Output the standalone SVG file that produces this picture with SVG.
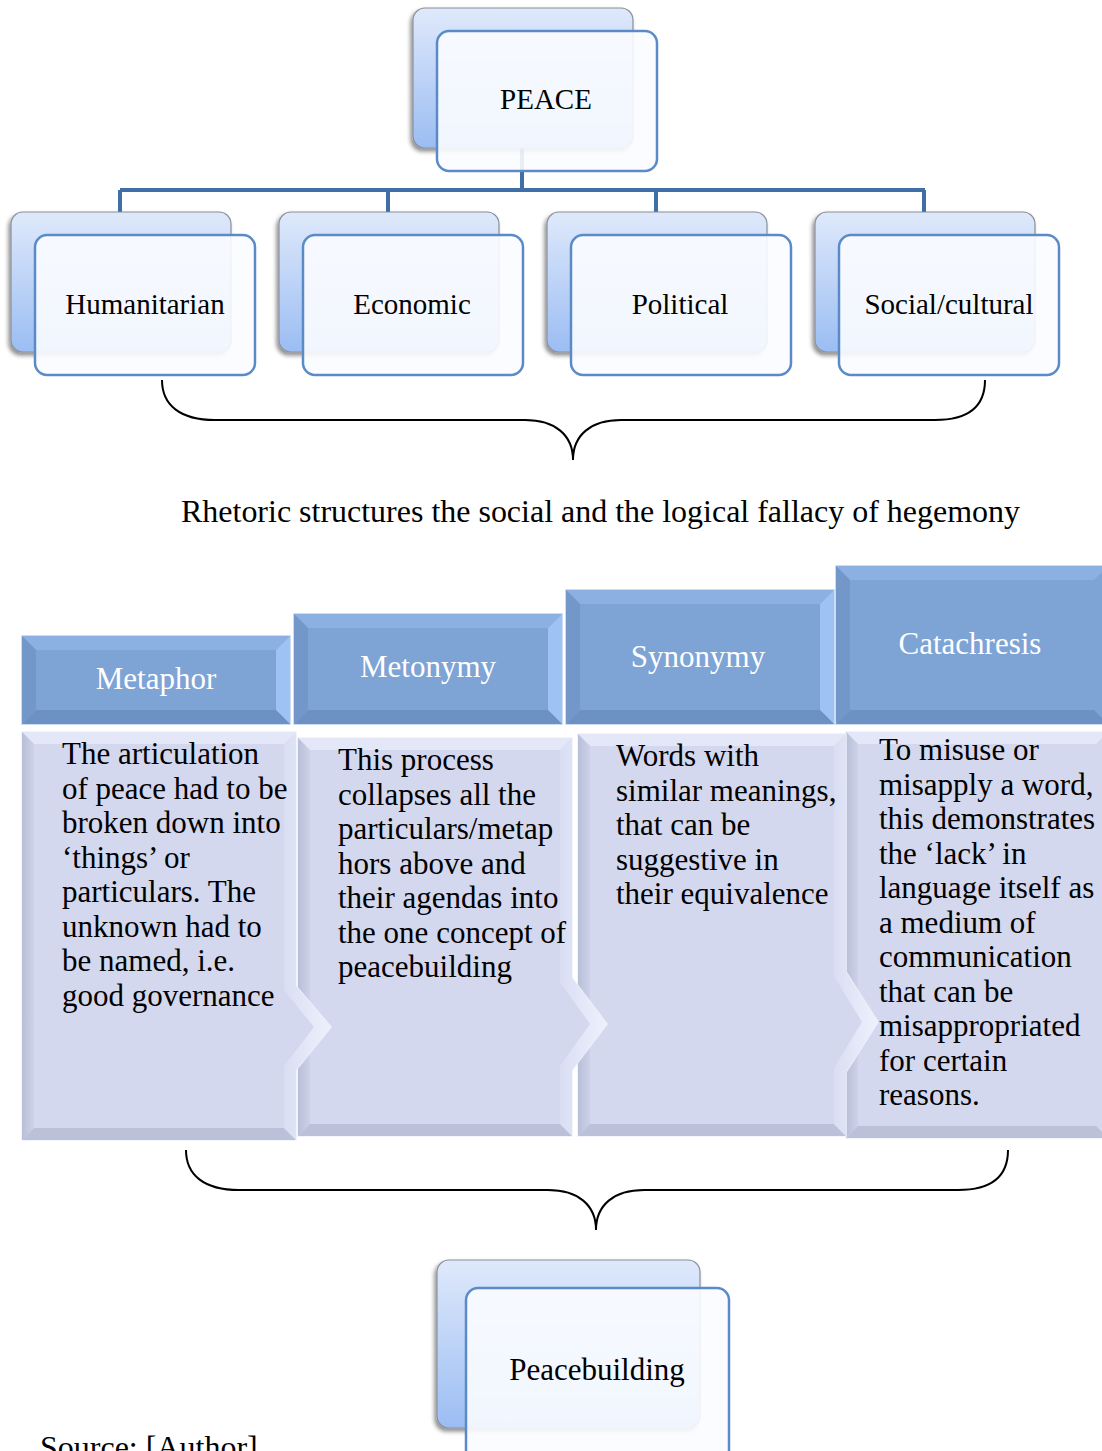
<svg xmlns="http://www.w3.org/2000/svg" width="1102" height="1451" viewBox="0 0 1102 1451">
<defs>
  <linearGradient id="backGrad" x1="0" y1="0" x2="0" y2="1">
    <stop offset="0" stop-color="#dfe9fb"/>
    <stop offset="1" stop-color="#9bbdf3"/>
  </linearGradient>
  <linearGradient id="rightStrip" x1="0" y1="0" x2="1" y2="0">
    <stop offset="0" stop-color="#d9def3"/>
    <stop offset="1" stop-color="#eef1fc"/>
  </linearGradient>
  <linearGradient id="leftStrip" x1="0" y1="0" x2="1" y2="0">
    <stop offset="0" stop-color="#b9bfd8"/>
    <stop offset="1" stop-color="#cdd2ea"/>
  </linearGradient>
  <filter id="shadow" x="-10%" y="-10%" width="120%" height="130%">
    <feDropShadow dx="-2" dy="3" stdDeviation="2" flood-color="#000" flood-opacity="0.45"/>
  </filter>
</defs>
<style>
  .back { fill: url(#backGrad); stroke: #8a8f99; stroke-width: 1.2; filter: url(#shadow); }
  .front { fill: #fbfcff; fill-opacity: 0.9; stroke: #5b8bc6; stroke-width: 2.5; }
  .lbl { font-family: "Liberation Serif", "Times New Roman", serif; font-size: 29px; fill: #000; text-anchor: middle; }
  .conn { stroke: #3f6fa6; stroke-width: 4; fill: none; }
  .brace { stroke: #000; stroke-width: 2; fill: none; }
  .cap { font-family: "Liberation Serif", "Times New Roman", serif; font-size: 32px; fill: #000; }
  .hfill { fill: #7ea3d5; stroke: #b9d2f2; stroke-width: 1.5; }
  .htop { fill: #8cb0e2; }
  .hleft { fill: #7397c9; }
  .hright { fill: #9ec2f2; }
  .hbot { fill: #6d91c3; }
  .htxt { font-family: "Liberation Serif", "Times New Roman", serif; font-size: 31px; fill: #fff; text-anchor: middle; }
  .bfill { fill: #d4d8ee; stroke: #eef1fb; stroke-width: 1.5; }
  .btop { fill: #e3e7f7; }
  .bleft { fill: url(#leftStrip); }
  .bright { fill: url(#rightStrip); }
  .bbot { fill: #bcc1da; }
  .btxt { font-family: "Liberation Serif", "Times New Roman", serif; font-size: 31px; fill: #000; }
</style>

<g id="connectors">
  <path class="conn" d="M522,148 V190 M120,190 H925 M120,190 V212 M388,190 V212 M656,190 V212 M924,190 V212"/>
  <path class="brace" d="M162,380 C162,405 180,420 215,420 L525,420 C555,420 573,435 573,460 C573,435 591,420 621,420 L935,420 C970,420 985,405 985,380"/>
  <path class="brace" d="M186,1150 C186,1175 204,1190 239,1190 L548,1190 C578,1190 596,1205 596,1230 C596,1205 614,1190 644,1190 L958,1190 C993,1190 1008,1175 1008,1150"/>
</g>

<g id="node-peace">
  <rect class="back" x="413" y="8" width="220" height="140" rx="12"/>
  <rect class="front" x="437" y="31" width="220" height="140" rx="12"/>
  <text class="lbl" x="546" y="109">PEACE</text>
</g>

<g id="node-humanitarian">
  <rect class="back" x="11" y="212" width="220" height="140" rx="12"/>
  <rect class="front" x="35" y="235" width="220" height="140" rx="12"/>
  <text class="lbl" x="145" y="314">Humanitarian</text>
</g>
<g id="node-economic">
  <rect class="back" x="279" y="212" width="220" height="140" rx="12"/>
  <rect class="front" x="303" y="235" width="220" height="140" rx="12"/>
  <text class="lbl" x="412" y="314">Economic</text>
</g>
<g id="node-political">
  <rect class="back" x="547" y="212" width="220" height="140" rx="12"/>
  <rect class="front" x="571" y="235" width="220" height="140" rx="12"/>
  <text class="lbl" x="680" y="314">Political</text>
</g>
<g id="node-social">
  <rect class="back" x="815" y="212" width="220" height="140" rx="12"/>
  <rect class="front" x="839" y="235" width="220" height="140" rx="12"/>
  <text class="lbl" x="949" y="314">Social/cultural</text>
</g>

<text id="caption" class="cap" x="181" y="522" textLength="839" lengthAdjust="spacingAndGlyphs">Rhetoric structures the social and the logical fallacy of hegemony</text>

<!-- Column 4: Catachresis -->
<g id="node-catachresis">
  <rect class="hfill" x="836" y="566" width="272" height="158"/>
  <polygon class="htop" points="836,566 1108,566 1094,580 850,580"/>
  <polygon class="hleft" points="836,566 850,580 850,710 836,724"/>
  <polygon class="hbot" points="836,724 850,710 1094,710 1108,724"/>
  <text class="htxt" x="970" y="654">Catachresis</text>
  <rect class="bfill" x="846" y="732" width="262" height="406"/>
  <polygon class="btop" points="846,732 1108,732 1096,744 858,744"/>
  <polygon class="bleft" points="846,732 858,744 858,1126 846,1138"/>
  <polygon class="bbot" points="846,1138 858,1126 1096,1126 1108,1138"/>
  <text class="btxt">
    <tspan x="879" y="760">To misuse or</tspan>
    <tspan x="879" y="794.5">misapply a word,</tspan>
    <tspan x="879" y="829">this demonstrates</tspan>
    <tspan x="879" y="863.5">the ‘lack’ in</tspan>
    <tspan x="879" y="898">language itself as</tspan>
    <tspan x="879" y="932.5">a medium of</tspan>
    <tspan x="879" y="967">communication</tspan>
    <tspan x="879" y="1001.5">that can be</tspan>
    <tspan x="879" y="1036">misappropriated</tspan>
    <tspan x="879" y="1070.5">for certain</tspan>
    <tspan x="879" y="1105">reasons.</tspan>
  </text>
</g>

<!-- Column 3: Synonymy -->
<g id="node-synonymy">
  <rect class="hfill" x="566" y="590" width="268" height="134"/>
  <polygon class="htop" points="566,590 834,590 820,604 580,604"/>
  <polygon class="hleft" points="566,590 580,604 580,710 566,724"/>
  <polygon class="hright" points="834,590 834,724 820,710 820,604"/>
  <polygon class="hbot" points="566,724 580,710 820,710 834,724"/>
  <text class="htxt" x="698" y="667">Synonymy</text>
  <path class="bfill" d="M578,734 H846 V972 L878,1022 L846,1072 V1136 H578 Z"/>
  <polygon class="btop" points="578,734 846,734 834,746 590,746"/>
  <polygon class="bleft" points="578,734 590,746 590,1124 578,1136"/>
  <polygon class="bbot" points="578,1136 590,1124 834,1124 846,1136"/>
  <path class="bright" d="M846,734 V972 L878,1022 L846,1072 V1136 L834,1124 V1068 L862,1022 L834,976 V746 Z"/>
  <text class="btxt">
    <tspan x="616" y="766">Words with</tspan>
    <tspan x="616" y="800.5">similar meanings,</tspan>
    <tspan x="616" y="835">that can be</tspan>
    <tspan x="616" y="869.5">suggestive in</tspan>
    <tspan x="616" y="904">their equivalence</tspan>
  </text>
</g>

<!-- Column 2: Metonymy -->
<g id="node-metonymy">
  <rect class="hfill" x="294" y="614" width="268" height="110"/>
  <polygon class="htop" points="294,614 562,614 548,628 308,628"/>
  <polygon class="hleft" points="294,614 308,628 308,710 294,724"/>
  <polygon class="hright" points="562,614 562,724 548,710 548,628"/>
  <polygon class="hbot" points="294,724 308,710 548,710 562,724"/>
  <text class="htxt" x="428" y="677">Metonymy</text>
  <path class="bfill" d="M298,738 H572 V978 L607,1024 L572,1070 V1136 H298 Z"/>
  <polygon class="btop" points="298,738 572,738 560,750 310,750"/>
  <polygon class="bleft" points="298,738 310,750 310,1124 298,1136"/>
  <polygon class="bbot" points="298,1136 310,1124 560,1124 572,1136"/>
  <path class="bright" d="M572,738 V978 L607,1024 L572,1070 V1136 L560,1124 V1066 L590,1024 L560,982 V750 Z"/>
  <text class="btxt">
    <tspan x="338" y="770">This process</tspan>
    <tspan x="338" y="804.5">collapses all the</tspan>
    <tspan x="338" y="839">particulars/metap</tspan>
    <tspan x="338" y="873.5">hors above and</tspan>
    <tspan x="338" y="908">their agendas into</tspan>
    <tspan x="338" y="942.5">the one concept of</tspan>
    <tspan x="338" y="977">peacebuilding</tspan>
  </text>
</g>

<!-- Column 1: Metaphor -->
<g id="node-metaphor">
  <rect class="hfill" x="22" y="636" width="268" height="88"/>
  <polygon class="htop" points="22,636 290,636 276,650 36,650"/>
  <polygon class="hleft" points="22,636 36,650 36,710 22,724"/>
  <polygon class="hright" points="290,636 290,724 276,710 276,650"/>
  <polygon class="hbot" points="22,724 36,710 276,710 290,724"/>
  <text class="htxt" x="156" y="689">Metaphor</text>
  <path class="bfill" d="M22,732 H296 V986 L331,1027 L296,1070 V1140 H22 Z"/>
  <polygon class="btop" points="22,732 296,732 284,744 34,744"/>
  <polygon class="bleft" points="22,732 34,744 34,1128 22,1140"/>
  <polygon class="bbot" points="22,1140 34,1128 284,1128 296,1140"/>
  <path class="bright" d="M296,732 V986 L331,1027 L296,1070 V1140 L284,1128 V1066 L314,1027 L284,990 V744 Z"/>
  <text class="btxt">
    <tspan x="62" y="764">The articulation</tspan>
    <tspan x="62" y="798.5">of peace had to be</tspan>
    <tspan x="62" y="833">broken down into</tspan>
    <tspan x="62" y="867.5">‘things’ or</tspan>
    <tspan x="62" y="902">particulars. The</tspan>
    <tspan x="62" y="936.5">unknown had to</tspan>
    <tspan x="62" y="971">be named, i.e.</tspan>
    <tspan x="62" y="1005.5">good governance</tspan>
  </text>
</g>

<g id="node-peacebuilding">
  <rect class="back" x="437" y="1260" width="263" height="168" rx="12"/>
  <rect class="front" x="466" y="1288" width="263" height="175" rx="12"/>
  <text class="lbl" x="597" y="1380" style="font-size:31px">Peacebuilding</text>
</g>

<text id="source" class="cap" x="40" y="1458">Source: [Author]</text>
</svg>
